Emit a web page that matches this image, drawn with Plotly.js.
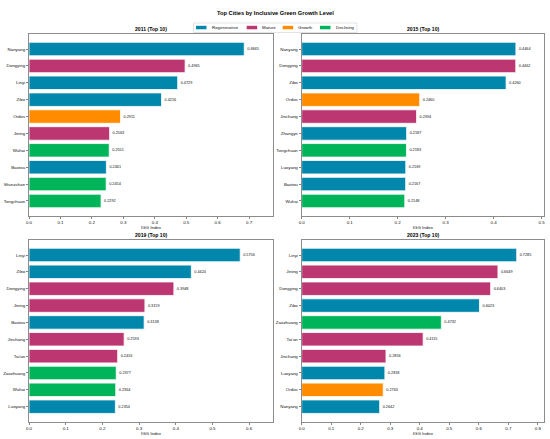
<!DOCTYPE html>
<html><head><meta charset="utf-8">
<script src="https://cdn.plot.ly/plotly-3.0.1.min.js"></script>
<style>html,body{margin:0;padding:0;background:#fff}#chart{width:550px;height:439px}</style>
</head><body><div id="chart"></div>
<script>
const categoryNames = ['Regenerative','Mature','Growth','Declining'];
const categoryColors = ['#0087AB','#BC3771','#FF8C00','#00B45A'];

const panelTitles = ['2011 (Top 10)','2015 (Top 10)','2019 (Top 10)','2023 (Top 10)'];

const cities2011 = ['Nanyang','Dongying','Linyi','Zibo','Ordos','Jining','Wuhai','Baotou','Shizuishan','Tongchuan'];
const values2011 = [0.6845,0.4965,0.4729,0.4216,0.2911,0.2563,0.2551,0.2461,0.2454,0.2292];
const types2011 = ['Regenerative','Mature','Regenerative','Regenerative','Growth','Mature','Declining','Regenerative','Declining','Declining'];

const cities2015 = ['Nanyang','Dongying','Zibo','Ordos','Jinchang','Zhangye','Tongchuan','Luoyang','Baotou','Wuhai'];
const values2015 = [0.4464,0.4462,0.4260,0.2460,0.2394,0.2187,0.2183,0.2169,0.2167,0.2148];
const types2015 = ['Regenerative','Mature','Regenerative','Growth','Mature','Regenerative','Declining','Regenerative','Regenerative','Declining'];

const cities2019 = ['Linyi','Zibo','Dongying','Jining','Baotou','Jinchang',"Tai'an",'Zaozhuang','Wuhai','Luoyang'];
const values2019 = [0.5756,0.4424,0.3948,0.3159,0.3138,0.2593,0.2416,0.2377,0.2364,0.2354];
const types2019 = ['Regenerative','Regenerative','Mature','Mature','Regenerative','Mature','Mature','Declining','Declining','Regenerative'];

const cities2023 = ['Linyi','Jining','Dongying','Zibo','Zaozhuang',"Tai'an",'Jinchang','Luoyang','Ordos','Nanyang'];
const values2023 = [0.7285,0.6649,0.6403,0.6023,0.4732,0.4115,0.2856,0.2818,0.2763,0.2642];
const types2023 = ['Regenerative','Mature','Mature','Regenerative','Declining','Mature','Mature','Regenerative','Growth','Regenerative'];

const panels = [
  {cities: cities2011, values: values2011, types: types2011, xmax: 0.776},
  {cities: cities2015, values: values2015, types: types2015, xmax: 0.505},
  {cities: cities2019, values: values2019, types: types2019, xmax: 0.665},
  {cities: cities2023, values: values2023, types: types2023, xmax: 0.821}
];

const W = 550, H = 439;
const px = v => v / W, py = v => 1 - v / H;
const xDomains = [[px(29), px(273)], [px(301.7), px(544)], [px(29), px(273)], [px(301.7), px(544)]];
const yDomains = [[py(216), py(34)], [py(216), py(34)], [py(421.7), py(240)], [py(421.7), py(240)]];
const titleY = [29.5, 29.5, 235.5, 235.5];

const FONT = 'Liberation Sans, Arial, sans-serif';
const data = [];
const layout = {
  width: W, height: H,
  margin: {l: 0, r: 0, t: 0, b: 0},
  paper_bgcolor: '#fff', plot_bgcolor: '#fff',
  showlegend: false,
  font: {family: FONT, color: '#111'},
  annotations: [], shapes: []
};

panels.forEach((p, k) => {
  const n = p.cities.length;
  const pos = p.cities.map((c, i) => n - 1 - i);
  const suffix = k === 0 ? '' : String(k + 1);
  data.push({
    type: 'bar', orientation: 'h',
    x: p.values, y: pos,
    xaxis: 'x' + suffix, yaxis: 'y' + suffix,
    width: 0.8,
    marker: {color: p.types.map(t => categoryColors[categoryNames.indexOf(t)]), line: {color: '#ffffff', width: 0.8}},
    text: p.values.map(v => v.toFixed(4)),
    textposition: 'outside',
    constraintext: 'none',
    cliponaxis: false,
    textfont: {size: 3.8, color: '#111', family: FONT},
    hoverinfo: 'skip'
  });
  layout['xaxis' + suffix] = {
    domain: xDomains[k], anchor: 'y' + suffix,
    range: [0, p.xmax], dtick: 0.1, tick0: 0, tickformat: '.1f',
    showline: true, mirror: true, linecolor: '#8c8c8c', linewidth: 1,
    ticks: 'outside', ticklen: 2, tickwidth: 0.6, tickcolor: '#333',
    showgrid: false, zeroline: false,
    tickfont: {size: 4.4, color: '#111'},
    title: {text: 'IGG Index', font: {size: 4.4, color: '#111'}, standoff: 1}
  };
  layout['yaxis' + suffix] = {
    domain: yDomains[k], anchor: 'x' + suffix,
    range: [-0.89, n - 1 + 0.89],
    tickvals: pos, ticktext: p.cities,
    showline: true, mirror: true, linecolor: '#8c8c8c', linewidth: 1,
    ticks: 'outside', ticklen: 2, tickwidth: 0.6, tickcolor: '#333',
    showgrid: false, zeroline: false,
    tickfont: {size: 4.4, color: '#111'}
  };
  layout.annotations.push({
    text: '<b>' + panelTitles[k] + '</b>', xref: 'paper', yref: 'paper',
    x: (xDomains[k][0] + xDomains[k][1]) / 2, y: py(titleY[k]),
    xanchor: 'center', yanchor: 'middle', showarrow: false,
    font: {size: 5.1, color: '#000'}
  });
});

layout.annotations.push({
  text: '<b>Top Cities by Inclusive Green Growth Level</b>', xref: 'paper', yref: 'paper',
  x: 0.5, y: py(13.3), xanchor: 'center', yanchor: 'middle', showarrow: false,
  font: {size: 5.7, color: '#000'}
});

// legend
const legendPatchX = [196, 246.7, 282.7, 320];
layout.shapes.push({type: 'rect', xref: 'paper', yref: 'paper',
  x0: px(193.5), x1: px(357), y0: py(32.5), y1: py(23),
  line: {color: '#d0d0d0', width: 0.6}, fillcolor: '#fff'});
categoryNames.forEach((name, i) => {
  const x0 = legendPatchX[i];
  layout.shapes.push({type: 'rect', xref: 'paper', yref: 'paper',
    x0: px(x0), x1: px(x0 + 10.5), y0: py(29.3), y1: py(25.8),
    line: {width: 0}, fillcolor: categoryColors[i]});
  layout.annotations.push({text: name, xref: 'paper', yref: 'paper',
    x: px(x0 + 13.5), y: py(27.6), xanchor: 'left', yanchor: 'middle', showarrow: false,
    font: {size: 4.4, color: '#111'}});
});

Plotly.newPlot('chart', data, layout, {staticPlot: true, displayModeBar: false});
</script>
</body></html>
